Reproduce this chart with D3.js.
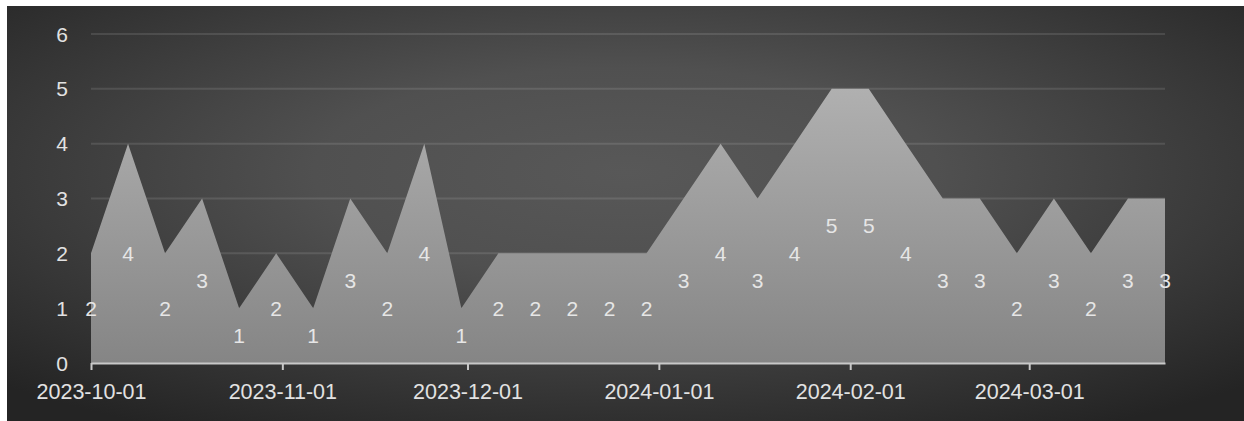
<!DOCTYPE html>
<html><head><meta charset="utf-8">
<script src="https://cdn.jsdelivr.net/npm/d3@7"></script>
<style>html,body{margin:0;padding:0;background:#fff;}svg{display:block;}</style>
</head><body>
<svg id="chart" width="1244" height="421"></svg>
<script>
const dates = ["2023-10-01","2023-10-07","2023-10-13","2023-10-19","2023-10-25","2023-10-31",
"2023-11-06","2023-11-12","2023-11-18","2023-11-24","2023-11-30","2023-12-06","2023-12-12",
"2023-12-18","2023-12-24","2023-12-30","2024-01-05","2024-01-11","2024-01-17","2024-01-23",
"2024-01-29","2024-02-04","2024-02-10","2024-02-16","2024-02-22","2024-02-28","2024-03-05",
"2024-03-11","2024-03-17","2024-03-23"];
const values = [2,4,2,3,1,2,1,3,2,4,1,2,2,2,2,2,3,4,3,4,5,5,4,3,3,2,3,2,3,3];
const yTicks = [0,1,2,3,4,5,6];
const xTickLabels = ["2023-10-01","2023-11-01","2023-12-01","2024-01-01","2024-02-01","2024-03-01"];

const parse = d3.timeParse("%Y-%m-%d");
const data = dates.map((d,i)=>({date:parse(d), value:values[i]}));

const svg = d3.select("#chart");
const defs = svg.append("defs");
const bg = defs.append("radialGradient").attr("id","bg").attr("cx","50%").attr("cy","40%").attr("r","72%");
bg.append("stop").attr("offset","0%").attr("stop-color","#585858");
bg.append("stop").attr("offset","35%").attr("stop-color","#505050");
bg.append("stop").attr("offset","100%").attr("stop-color","#242424");

svg.append("rect").attr("x",7).attr("y",6).attr("width",1237).attr("height",415).attr("fill","url(#bg)");

const x = d3.scaleTime().domain([parse("2023-10-01"), parse("2024-03-23")]).range([91,1165]);
const y = d3.scaleLinear().domain([0,6]).range([363,34]);

const ag = defs.append("linearGradient").attr("id","ag").attr("gradientUnits","userSpaceOnUse")
  .attr("x1",0).attr("x2",0).attr("y1",y(5)).attr("y2",y(0));
ag.append("stop").attr("offset","0%").attr("stop-color","#b0b0b0");
ag.append("stop").attr("offset","100%").attr("stop-color","#858585");

const font = "'Liberation Sans', Arial, sans-serif";

// gridlines
svg.append("g").selectAll("line").data(yTicks.filter(d=>d>0)).join("line")
  .attr("x1",91).attr("x2",1165).attr("y1",d=>y(d)).attr("y2",d=>y(d))
  .attr("stroke","rgba(255,255,255,0.11)").attr("stroke-width",2);

// area
const area = d3.area().x(d=>x(d.date)).y0(y(0)).y1(d=>y(d.value));
svg.append("path").datum(data).attr("d",area).attr("fill","url(#ag)");

// y axis labels
svg.append("g").selectAll("text").data(yTicks).join("text")
  .attr("x",62).attr("y",d=>y(d)).attr("text-anchor","middle").attr("dominant-baseline","central")
  .attr("fill","#e2e2e2").style("font-family",font).style("font-size","21px")
  .text(d=>d);

// x axis
const xAxis = d3.axisBottom(x).tickValues(xTickLabels.map(parse)).tickFormat(d3.timeFormat("%Y-%m-%d"))
  .tickSize(7).tickPadding(14).tickSizeOuter(0);
const gx = svg.append("g").attr("transform",`translate(0,${y(0)})`).call(xAxis);
gx.select(".domain").attr("stroke","#c8c8c8").attr("stroke-width",2);
gx.selectAll(".tick line").attr("stroke","#c8c8c8").attr("stroke-width",2);
gx.selectAll(".tick text").attr("fill","#e2e2e2").style("font-family",font)
  .style("font-size","21.5px");

// data labels
svg.append("g").selectAll("text").data(data).join("text")
  .attr("x",d=>x(d.date)).attr("y",d=>y(d.value/2)).attr("text-anchor","middle").attr("dominant-baseline","central")
  .attr("fill","#e6e6e6").style("font-family",font).style("font-size","21px")
  .text(d=>d.value);
</script>
</body></html>
